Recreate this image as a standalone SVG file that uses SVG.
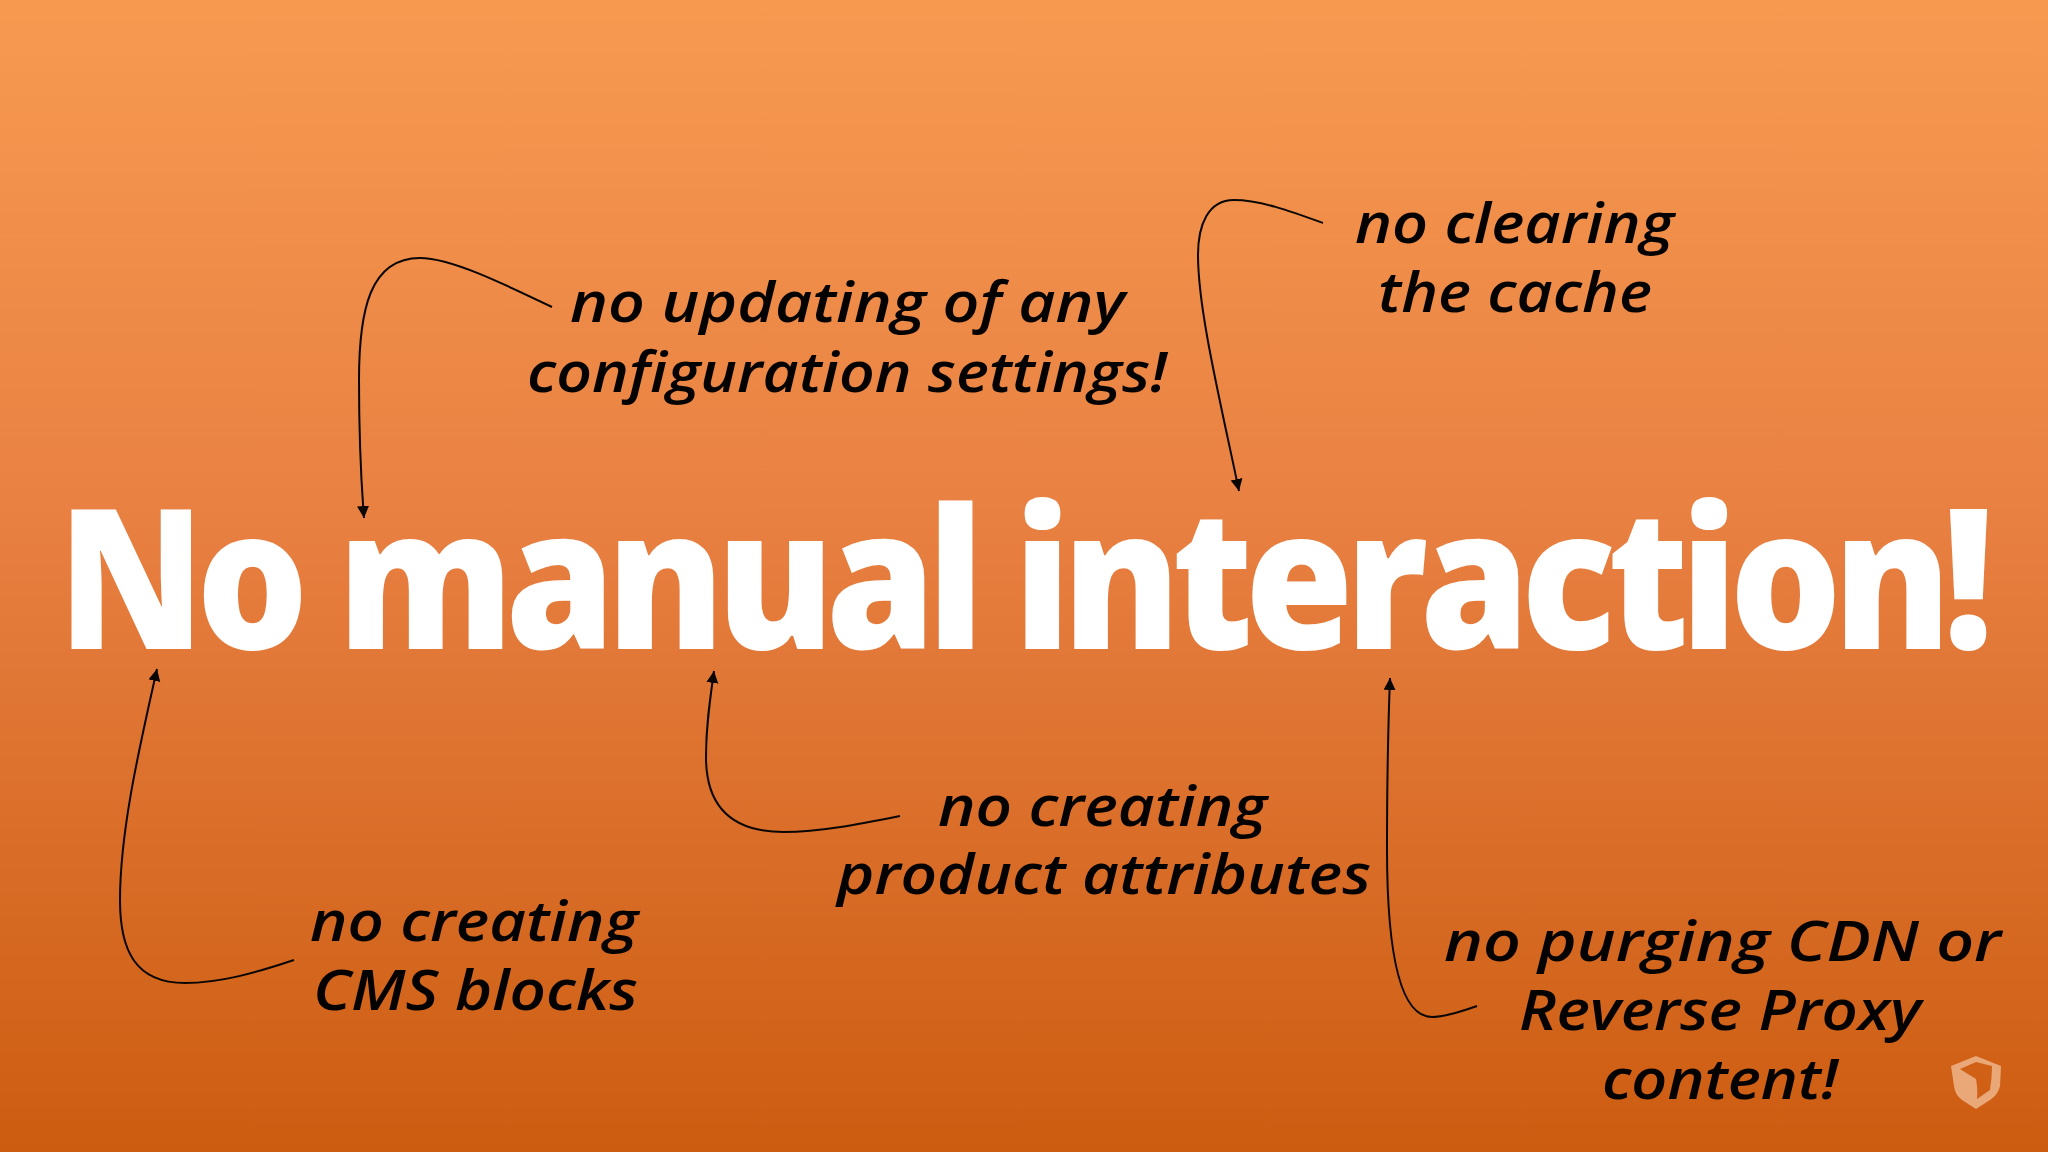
<svg xmlns="http://www.w3.org/2000/svg" width="2048" height="1152" viewBox="0 0 2048 1152">
<style>
.h{font-family:"Open Sans","Noto Sans",sans-serif;font-style:italic;font-weight:600;font-size:56px;fill:#050302}
.t{font-family:"Open Sans","Noto Sans",sans-serif;font-weight:800;font-size:196px;letter-spacing:-9px;fill:#fff}
.c{fill:none;stroke:#0a0604;stroke-width:2;marker-end:url(#a)}
</style>
<defs>
<linearGradient id="bg" x1="0" y1="0" x2="0" y2="1">
<stop offset="0" stop-color="#f79a50"/><stop offset=".45" stop-color="#e88042"/><stop offset="1" stop-color="#cc5c10"/>
</linearGradient>
<marker id="a" markerUnits="userSpaceOnUse" markerWidth="14" markerHeight="14" refX="12" refY="6" orient="auto">
<path d="M0 0L12 6L0 12z" fill="#0a0604"/>
</marker>
</defs>
<rect width="2048" height="1152" fill="url(#bg)"/>
<g id="title"><text class="t" x="58" y="649" textLength="1928" lengthAdjust="spacingAndGlyphs">No manual interaction!</text></g>
<g id="connectors">
<path class="c" d="M552 307C500 282 450 258 420 258C370 258 359 310 359 380C359 430 361 480 364 518"/>
<path class="c" d="M1323 223C1290 211 1260 200 1234 200C1208 200 1198 225 1198 255C1198 310 1220 400 1239 491"/>
<path class="c" d="M294 960C255 973 220 983 185 983C135 983 120 950 120 900C120 830 140 745 157 669"/>
<path class="c" d="M900 816C860 824 820 832 784 832C730 832 706 805 706 757C706 725 710 700 714 671"/>
<path class="c" d="M1477 1006C1460 1012 1445 1017 1432 1017C1402 1017 1387 960 1387 849C1387 780 1388 730 1390 678"/>
</g>
<g id="note-config"><text class="h" x="570" y="322" textLength="555" lengthAdjust="spacingAndGlyphs">no updating of any</text><text class="h" x="527" y="392" textLength="640" lengthAdjust="spacingAndGlyphs">configuration settings!</text></g>
<g id="note-cache"><text class="h" x="1355" y="243" textLength="319" lengthAdjust="spacingAndGlyphs">no clearing</text><text class="h" x="1378" y="312" textLength="274" lengthAdjust="spacingAndGlyphs">the cache</text></g>
<g id="note-cms"><text class="h" x="310" y="941" textLength="328" lengthAdjust="spacingAndGlyphs">no creating</text><text class="h" x="313" y="1010" textLength="325" lengthAdjust="spacingAndGlyphs">CMS blocks</text></g>
<g id="note-attributes"><text class="h" x="938" y="826" textLength="329" lengthAdjust="spacingAndGlyphs">no creating</text><text class="h" x="837" y="894" textLength="534" lengthAdjust="spacingAndGlyphs">product attributes</text></g>
<g id="note-cdn"><text class="h" x="1444" y="961" textLength="557" lengthAdjust="spacingAndGlyphs">no purging CDN or</text><text class="h" x="1519" y="1030" textLength="402" lengthAdjust="spacingAndGlyphs">Reverse Proxy</text><text class="h" x="1602" y="1099" textLength="236" lengthAdjust="spacingAndGlyphs">content!</text></g>
<g id="logo"><path fill-rule="evenodd" fill="#eaa878" d="M1976 1056L2001 1066L2000 1086Q1998 1095 1990 1100L1976 1109L1962 1100Q1955 1095 1954 1086L1951 1066ZM1960 1069L1976 1079Q1978 1090 1977 1099L1990 1090Q1992 1078 1992 1066L1976 1062Z"/></g>
</svg>
